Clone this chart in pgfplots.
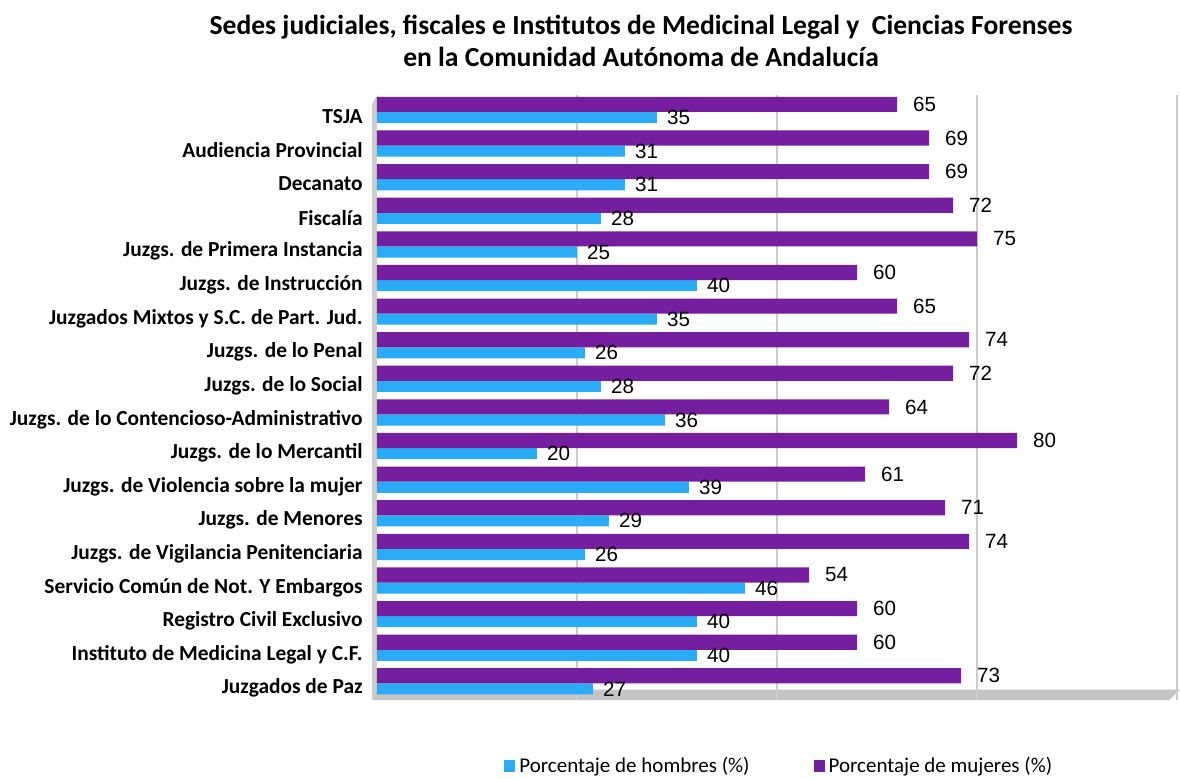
\documentclass[border=0pt]{standalone}
\usepackage{fontspec}
\setmainfont{Carlito}
\newfontfamily\arial{Liberation Sans}
\usepackage{pgfplots}
\pgfplotsset{compat=1.18}
\usepackage{pgfplotstable}

\definecolor{hom}{RGB}{41,171,245}
\definecolor{muj}{RGB}{118,30,160}
\definecolor{grd}{RGB}{205,205,205}
\definecolor{flr}{RGB}{196,196,196}

% idx: row from the top; h = hombres (%), m = mujeres (%)
\pgfplotstableread{
idx h m
0 35 65
1 31 69
2 31 69
3 28 72
4 25 75
5 40 60
6 35 65
7 26 74
8 28 72
9 36 64
10 20 80
11 39 61
12 29 71
13 26 74
14 46 54
15 40 60
16 40 60
17 27 73
}\sedes

\begin{document}
\begin{tikzpicture}
\begin{axis}[
  name=ax, at={(0,0)}, anchor=south west, set layers,
  scale only axis, width=400pt, height=302.5pt,
  xmin=0, xmax=100, ymin=-0.5, ymax=17.5,
  y dir=reverse, xbar, clip=false,
  axis line style={draw=none}, major tick length=0pt,
  xtick={25,50,75,100}, xticklabels={}, xmajorgrids,
  grid style={grd, line width=0.8pt},
  ytick={0,...,17},
  yticklabels={TSJA, Audiencia Provincial, Decanato, Fiscalía,
    Juzgs. de Primera Instancia, Juzgs. de Instrucción,
    Juzgados Mixtos y S.C. de Part. Jud., Juzgs. de lo Penal,
    Juzgs. de lo Social, Juzgs. de lo Contencioso-Administrativo,
    Juzgs. de lo Mercantil, Juzgs. de Violencia sobre la mujer,
    Juzgs. de Menores, Juzgs. de Vigilancia Penitenciaria,
    Servicio Común de Not. Y Embargos, Registro Civil Exclusivo,
    Instituto de Medicina Legal y C.F., Juzgados de Paz},
  yticklabel style={font=\bfseries\fontsize{10.7}{12}\selectfont, inner sep=0pt, xshift=-7pt, yshift=-2.5pt},
  nodes near coords,
  /pgf/number format/assume math mode=true,
  legend style={at={(0.504,-0.109)}, anchor=center, draw=none,
    legend columns=2, font=\fontsize{10.5}{12}\selectfont,
    /tikz/every even column/.append style={column sep=30pt}},
  legend image code/.code={\fill[#1,draw=none] (0pt,-2.8pt) rectangle (5.6pt,2.8pt);},
]
\addplot[fill=hom, draw=none, bar width=0.33, bar shift=0pt,
  nodes near coords style={font=\arial\fontsize{10.3}{11}\selectfont, anchor=west, xshift=1.5pt}]
  table[x=h, y expr=\thisrow{idx}+0.17] {\sedes};
\addplot[fill=muj, draw=none, bar width=0.45, bar shift=0pt,
  nodes near coords style={font=\arial\fontsize{10.3}{11}\selectfont, anchor=west, xshift=4.5pt}]
  table[x=m, y expr=\thisrow{idx}-0.22] {\sedes};
\legend{Porcentaje de hombres (\%), Porcentaje de mujeres (\%)}
\begin{pgfonlayer}{axis background}
\fill[flr] (rel axis cs:-0.006,0) -- (rel axis cs:0.99,0) -- (rel axis cs:1.004,0.017) -- (rel axis cs:0,0.017) -- cycle;
\fill[grd] (rel axis cs:-0.006,0) -- (rel axis cs:0,0.017) -- (rel axis cs:0,1) -- (rel axis cs:-0.006,0.985) -- cycle;
\end{pgfonlayer}
\end{axis}
\node[align=center, font=\bfseries\fontsize{13.8}{16}\selectfont] at (132pt,329.5pt)
  {Sedes judiciales, fiscales e Institutos de Medicinal Legal y\ \ Ciencias Forenses\\en la Comunidad Autónoma de Andalucía};
\pgfresetboundingbox
\path (-188.5pt,-39pt) rectangle (401.5pt,350pt);
\end{tikzpicture}
\end{document}
